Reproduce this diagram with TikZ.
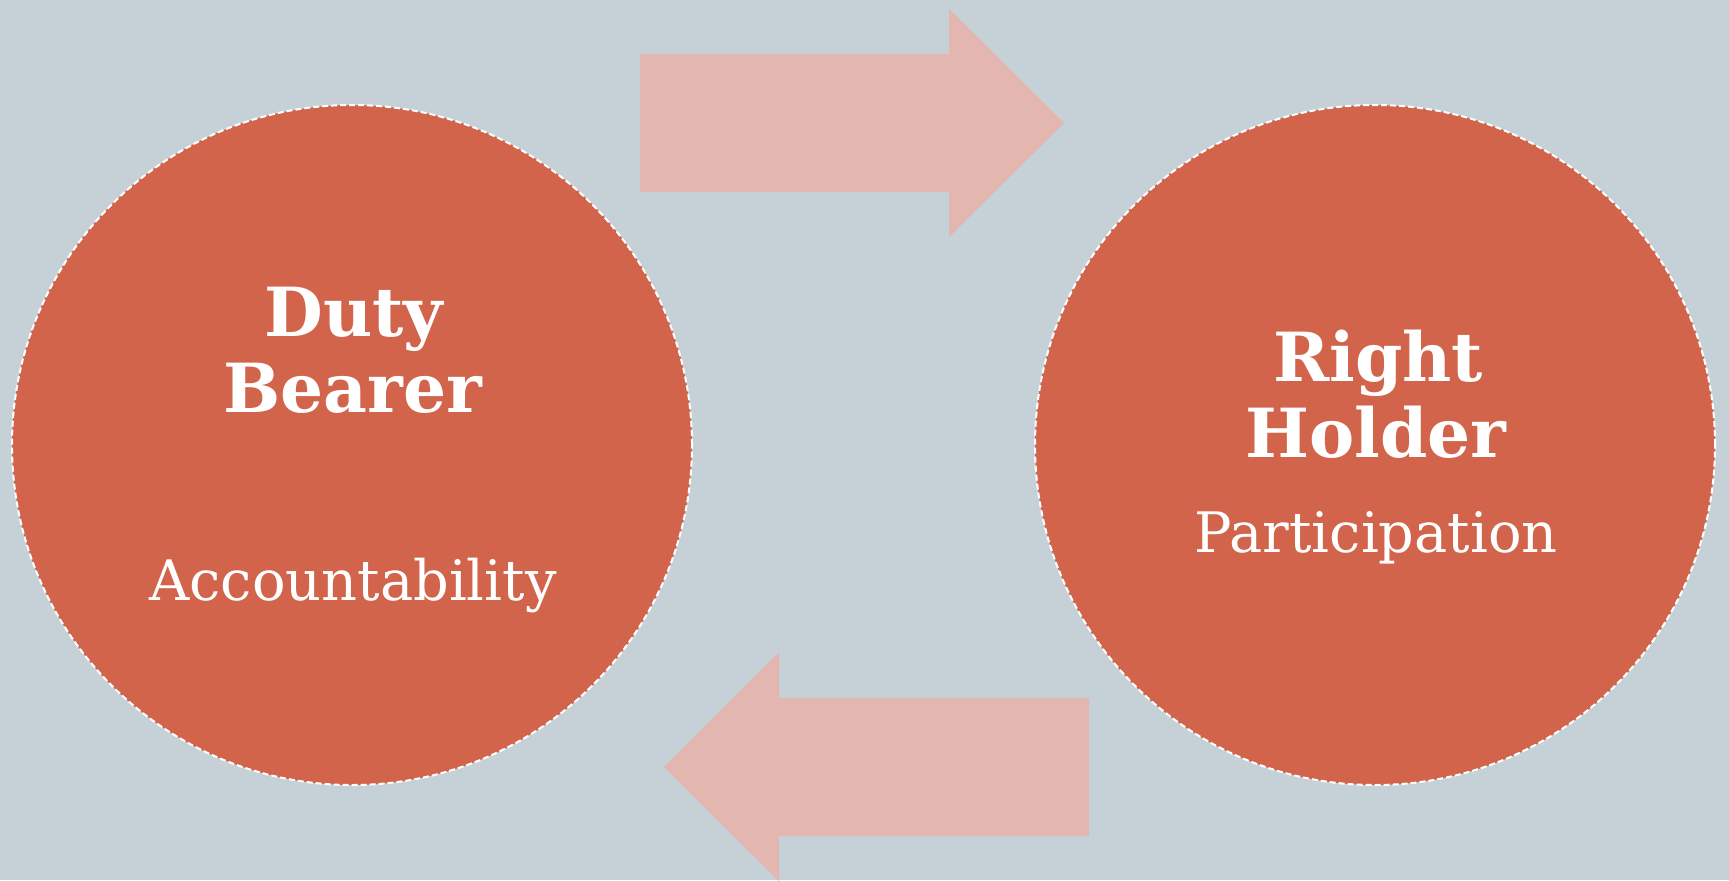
\documentclass[tikz,border=0pt]{standalone}
\usepackage{fontspec}
\setmainfont{DejaVu Serif}
\definecolor{bgcol}{RGB}{197,209,215}
\definecolor{circcol}{RGB}{209,100,74}
\definecolor{arrcol}{RGB}{227,182,175}
\tikzset{
  bigcircle/.style={circle, inner sep=0pt, minimum size=680bp, fill=circcol, draw=white, line width=2bp, dash pattern=on 6bp off 3bp},
  bigarrow/.style={fill=arrcol, draw=none},
  titletext/.style={anchor=base, text=white, inner sep=0pt, font=\fontsize{68}{76}\selectfont\bfseries},
  subtext/.style={anchor=base, text=white, inner sep=0pt, font=\fontsize{56}{64}\selectfont}
}
\begin{document}
\begin{tikzpicture}[x=1bp, y=-1bp]
\fill[bgcol] (0,0) rectangle (1729,880);
\useasboundingbox (0,0) rectangle (1729,880);
% arrows
\fill[bigarrow] (640,54) -- (949,54) -- (949,9) -- (1064,123) -- (949,237) -- (949,192) -- (640,192) -- cycle;
\fill[bigarrow] (1089,698) -- (779,698) -- (779,652) -- (664,767) -- (779,881) -- (779,836) -- (1089,836) -- cycle;
% circles
\node[bigcircle] (duty) at (352,445) {};
\node[bigcircle] (right) at (1375,445) {};
% texts
\node[titletext] (t1) at (354,336) {Duty};
\node[titletext] (t2) at (353,412) {Bearer};
\node[subtext] (t3) at (353,600) {Accountability};
\node[titletext] (t4) at (1378,381) {Right};
\node[titletext] (t5) at (1376,457) {Holder};
\node[subtext] (t6) at (1376,552) {Participation};
\end{tikzpicture}
\end{document}
